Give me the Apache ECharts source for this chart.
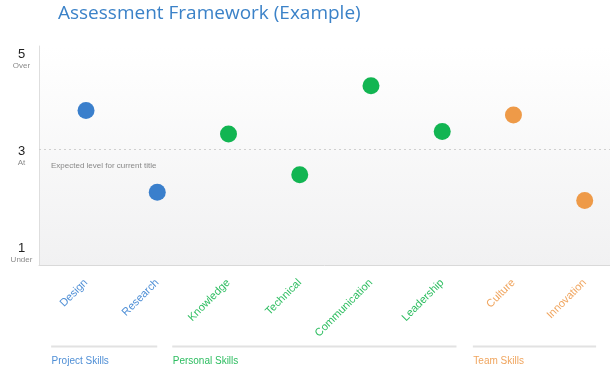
<!DOCTYPE html>
<html>
<head>
<meta charset="utf-8">
<script src="https://cdn.jsdelivr.net/npm/echarts@6/dist/echarts.min.js"></script>
<style>html,body{margin:0;padding:0;background:#fff}#c{width:610px;height:372px}</style>
</head>
<body>
<div id="c"></div>
<script>
// ---- data ----
const titleText = 'Assessment Framework (Example)';
const categories = ['Design', 'Research', 'Knowledge', 'Technical', 'Communication', 'Leadership', 'Culture', 'Innovation'];
const scores = [3.80, 2.12, 3.32, 2.48, 4.31, 3.37, 3.71, 1.95];
const categoryGroup = [0, 0, 1, 1, 1, 1, 2, 2];
const groupNames = ['Project Skills', 'Personal Skills', 'Team Skills'];
const groupFirst = [0, 2, 6];
const groupLast = [1, 5, 7];
const yTickValues = [1, 3, 5];
const yTickNames = ['Under', 'At', 'Over'];
const expectedLevel = 3;
const expectedLabel = 'Expected level for current title';

// ---- styling / layout ----
const dotColors = ['#3a7fcc', '#12b552', '#ee9a48'];
const textColors = ['#4f8fd6', '#2dbd60', '#f0a55e'];
const Y_MIN = 0.62, Y_MAX = 5.13;
const X_MIN = -0.66, X_MAX = 7.355;
// group underline extents relative to first/last category (in category units)
const groupSpanStart = [-0.49, -0.79, -0.57];
const groupSpanEnd = [0.0, 0.2, 0.16];
const FONT = '"Liberation Sans", Arial, Helvetica, sans-serif';

const chart = echarts.init(document.getElementById('c'), null, {renderer: 'canvas'});

const richCat = {};
textColors.forEach((c, i) => { richCat['g' + i] = {color: c, fontSize: 11, fontFamily: FONT}; });
const catIndex = categories.map((c, i) => i);

const option = {
  animation: false,
  textStyle: {fontFamily: FONT},
  title: {
    text: titleText,
    left: 53, top: -1,
    textStyle: {color: '#3b82c8', fontSize: 19, fontWeight: 'normal', fontFamily: '"Open Sans", sans-serif'}
  },
  grid: {
    left: 39, right: 0, top: 46, bottom: 107,
    show: true, borderWidth: 0,
    backgroundColor: {type: 'linear', x: 0, y: 0, x2: 0, y2: 1,
      colorStops: [{offset: 0, color: '#ffffff'}, {offset: 1, color: '#f1f1f2'}]}
  },
  xAxis: {
    type: 'value', min: X_MIN, max: X_MAX,
    axisLine: {show: true, onZero: false, lineStyle: {color: '#d9d9d9', width: 1}},
    axisTick: {show: false}, splitLine: {show: false},
    axisLabel: {
      customValues: catIndex,
      rotate: 45, margin: 16,
      formatter: v => {
        const i = Math.round(v);
        return '{g' + categoryGroup[i] + '|' + categories[i] + '}';
      },
      rich: richCat
    }
  },
  yAxis: {
    type: 'value', min: Y_MIN, max: Y_MAX,
    axisLine: {show: true, onZero: false, lineStyle: {color: '#dedede', width: 1}},
    axisTick: {show: false}, splitLine: {show: false},
    axisLabel: {
      customValues: yTickValues,
      align: 'center', margin: 17.5,
      formatter: v => {
        const k = yTickValues.indexOf(v);
        return k < 0 ? '' : '{pad| }\n{num|' + v + '}\n{sub|' + yTickNames[k] + '}';
      },
      rich: {
        pad: {fontSize: 8, lineHeight: 14},
        num: {fontSize: 13, lineHeight: 13, color: '#222', fontFamily: FONT},
        sub: {fontSize: 8, lineHeight: 10, color: '#8a8a8a', fontFamily: FONT}
      }
    }
  },
  series: [
    {
      type: 'scatter', symbolSize: 17,
      data: scores.map((s, i) => ({value: [i, s], itemStyle: {color: dotColors[categoryGroup[i]], opacity: 1}})),
      markLine: {
        silent: true, symbol: 'none',
        lineStyle: {color: '#cfcfcf', type: [2, 3], width: 1},
        label: {
          position: 'insideStartBottom', formatter: expectedLabel,
          color: '#888', fontSize: 8, fontFamily: FONT, distance: [12, 12]
        },
        data: [{yAxis: expectedLevel}]
      }
    },
    {
      type: 'custom', silent: true, clip: false,
      data: groupNames.map((n, g) => [groupFirst[g], groupLast[g], g]),
      renderItem: (params, api) => {
        const g = api.value(2);
        const p0 = api.coord([api.value(0) + groupSpanStart[g], Y_MIN]);
        const p1 = api.coord([api.value(1) + groupSpanEnd[g], Y_MIN]);
        const yLine = p0[1] + 81.5;
        const yText = p0[1] + 96;
        return {
          type: 'group',
          children: [
            {type: 'line', shape: {x1: p0[0], y1: yLine, x2: p1[0], y2: yLine},
             style: {stroke: '#e2e2e2', lineWidth: 2}},
            {type: 'text', x: p0[0] + 0.5, y: yText,
             style: {text: groupNames[g], fill: textColors[g], fontSize: 10, fontFamily: FONT,
                     align: 'left', verticalAlign: 'middle'}}
          ]
        };
      }
    }
  ]
};
chart.setOption(option);
</script>
</body>
</html>
